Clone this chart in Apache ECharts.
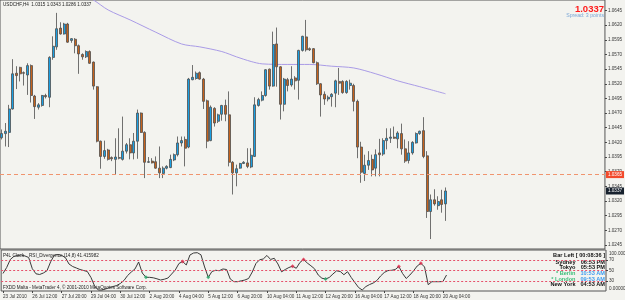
<!DOCTYPE html>
<html>
<head>
<meta charset="utf-8">
<script src="https://cdn.jsdelivr.net/npm/echarts@6/dist/echarts.min.js"></script>
<style>
  html, body { margin: 0; padding: 0; background: #f3f3ef; }
  #chart { width: 625px; height: 300px; }
</style>
</head>
<body>
<div id="chart"></div>
<script>
  // USDCHF H4, 23 Jul 2010 - 20 Aug 2010
  const opens = [1.0428, 1.0435, 1.0437, 1.0477, 1.0538, 1.0548, 1.0539, 1.0535, 1.0551, 1.0499,
    1.0480, 1.0483, 1.0500, 1.0497, 1.0565, 1.0583, 1.0615, 1.0605, 1.0622, 1.0594,
    1.0596, 1.0585, 1.0570, 1.0566, 1.0575, 1.0557, 1.0515, 1.0422, 1.0396, 1.0407,
    1.0394, 1.0391, 1.0394, 1.0391, 1.0405, 1.0416, 1.0402, 1.0422, 1.0470, 1.0437,
    1.0386, 1.0388, 1.0387, 1.0376, 1.0367, 1.0376, 1.0377, 1.0390, 1.0399, 1.0419,
    1.0425, 1.0412, 1.0527, 1.0529, 1.0539, 1.0528, 1.0491, 1.0423, 1.0478, 1.0456,
    1.0468, 1.0483, 1.0467, 1.0386, 1.0368, 1.0376, 1.0384, 1.0385, 1.0378, 1.0396,
    1.0483, 1.0492, 1.0500, 1.0545, 1.0516, 1.0588, 1.0549, 1.0485, 1.0527, 1.0518,
    1.0530, 1.0526, 1.0577, 1.0600, 1.0580, 1.0580, 1.0556, 1.0520, 1.0502, 1.0494,
    1.0498, 1.0504, 1.0524, 1.0524, 1.0505, 1.0517, 1.0517, 1.0490, 1.0412, 1.0367,
    1.0381, 1.0391, 1.0376, 1.0402, 1.0400, 1.0423, 1.0427, 1.0429, 1.0426, 1.0435,
    1.0409, 1.0389, 1.0402, 1.0419, 1.0435, 1.0440, 1.0397, 1.0302, 1.0322, 1.0312,
    1.0322, 1.0315];
  const highs = [1.0442, 1.0453, 1.0484, 1.0562, 1.0550, 1.0549, 1.0541, 1.0555, 1.0553, 1.0501,
    1.0487, 1.0501, 1.0503, 1.0567, 1.0601, 1.0641, 1.0625, 1.0624, 1.0624, 1.0598,
    1.0598, 1.0587, 1.0572, 1.0577, 1.0577, 1.0558, 1.0516, 1.0423, 1.0423, 1.0409,
    1.0396, 1.0427, 1.0444, 1.0464, 1.0419, 1.0427, 1.0436, 1.0476, 1.0471, 1.0439,
    1.0395, 1.0393, 1.0396, 1.0413, 1.0379, 1.0381, 1.0399, 1.0401, 1.0430, 1.0430,
    1.0430, 1.0530, 1.0552, 1.0541, 1.0541, 1.0530, 1.0493, 1.0483, 1.0480, 1.0469,
    1.0484, 1.0493, 1.0507, 1.0388, 1.0382, 1.0385, 1.0388, 1.0410, 1.0410, 1.0497,
    1.0496, 1.0507, 1.0545, 1.0546, 1.0609, 1.0616, 1.0550, 1.0530, 1.0530, 1.0550,
    1.0533, 1.0578, 1.0602, 1.0629, 1.0582, 1.0581, 1.0558, 1.0521, 1.0507, 1.0500,
    1.0504, 1.0527, 1.0547, 1.0526, 1.0526, 1.0527, 1.0520, 1.0493, 1.0421, 1.0399,
    1.0405, 1.0399, 1.0408, 1.0426, 1.0427, 1.0444, 1.0444, 1.0447, 1.0439, 1.0452,
    1.0425, 1.0422, 1.0422, 1.0437, 1.0440, 1.0463, 1.0405, 1.0331, 1.0340, 1.0328,
    1.0339, 1.0343];
  const lows = [1.0425, 1.0413, 1.0412, 1.0476, 1.0511, 1.0524, 1.0517, 1.0501, 1.0488, 1.0460,
    1.0476, 1.0481, 1.0495, 1.0480, 1.0561, 1.0578, 1.0604, 1.0604, 1.0590, 1.0590,
    1.0572, 1.0537, 1.0561, 1.0564, 1.0554, 1.0510, 1.0420, 1.0375, 1.0392, 1.0389,
    1.0388, 1.0365, 1.0391, 1.0389, 1.0401, 1.0391, 1.0391, 1.0392, 1.0436, 1.0359,
    1.0385, 1.0384, 1.0375, 1.0359, 1.0359, 1.0374, 1.0376, 1.0388, 1.0396, 1.0413,
    1.0379, 1.0410, 1.0526, 1.0527, 1.0527, 1.0477, 1.0410, 1.0422, 1.0447, 1.0453,
    1.0457, 1.0456, 1.0379, 1.0331, 1.0345, 1.0375, 1.0383, 1.0376, 1.0376, 1.0395,
    1.0481, 1.0490, 1.0498, 1.0510, 1.0515, 1.0515, 1.0459, 1.0473, 1.0507, 1.0515,
    1.0510, 1.0493, 1.0575, 1.0575, 1.0576, 1.0555, 1.0518, 1.0464, 1.0484, 1.0490,
    1.0481, 1.0480, 1.0501, 1.0503, 1.0503, 1.0510, 1.0473, 1.0393, 1.0351, 1.0354,
    1.0373, 1.0362, 1.0362, 1.0362, 1.0397, 1.0408, 1.0419, 1.0426, 1.0410, 1.0399,
    1.0385, 1.0384, 1.0399, 1.0418, 1.0433, 1.0393, 1.0291, 1.0255, 1.0312, 1.0305,
    1.0300, 1.0286];
  const closes = [1.0435, 1.0439, 1.0477, 1.0537, 1.0534, 1.0537, 1.0538, 1.0551, 1.0500, 1.0481,
    1.0484, 1.0500, 1.0498, 1.0565, 1.0584, 1.0614, 1.0605, 1.0622, 1.0591, 1.0597,
    1.0585, 1.0571, 1.0566, 1.0575, 1.0555, 1.0516, 1.0422, 1.0396, 1.0406, 1.0391,
    1.0392, 1.0395, 1.0393, 1.0405, 1.0416, 1.0402, 1.0422, 1.0470, 1.0437, 1.0386,
    1.0387, 1.0385, 1.0376, 1.0368, 1.0376, 1.0379, 1.0391, 1.0399, 1.0419, 1.0423,
    1.0410, 1.0528, 1.0531, 1.0538, 1.0528, 1.0490, 1.0422, 1.0480, 1.0453, 1.0467,
    1.0483, 1.0468, 1.0386, 1.0368, 1.0375, 1.0384, 1.0386, 1.0379, 1.0398, 1.0484,
    1.0493, 1.0500, 1.0544, 1.0516, 1.0587, 1.0549, 1.0485, 1.0528, 1.0517, 1.0528,
    1.0525, 1.0577, 1.0601, 1.0578, 1.0578, 1.0556, 1.0520, 1.0501, 1.0494, 1.0497,
    1.0502, 1.0525, 1.0521, 1.0505, 1.0524, 1.0521, 1.0490, 1.0412, 1.0369, 1.0381,
    1.0389, 1.0373, 1.0399, 1.0399, 1.0423, 1.0427, 1.0429, 1.0427, 1.0436, 1.0409,
    1.0388, 1.0402, 1.0420, 1.0435, 1.0439, 1.0396, 1.0302, 1.0322, 1.0315, 1.0319,
    1.0314, 1.0337];

  // RSI_Divergence values per bar
  const rsiValues = [44.3, 55.7, 71, 77, 78.6, 79.5, 77.6, 74.8, 53.4, 43.7,
    42.4, 45.2, 49.6, 66.6, 79.1, 80.5, 78.6, 74.8, 62.4, 57.6,
    54.8, 51.9, 50, 48.1, 36.7, 20.5, 12.9, 12.9, 14.8, 17.6,
    19.5, 21.4, 25.2, 31, 40.5, 47.1, 52.9, 66.2, 45.2, 37,
    37, 36.1, 34.2, 31.9, 33.4, 35.7, 43.3, 51, 63.3, 67.1,
    60.5, 79.5, 83.3, 83.9, 79.9, 56.7, 37, 48.1, 50.4, 49.6,
    52.9, 51.9, 33.8, 28.7, 28.7, 30.4, 31.9, 34.8, 47.1, 63.3,
    70.4, 71.9, 78.6, 71, 73.2, 62.4, 47.5, 51.9, 55.7, 58.2,
    54.2, 65.2, 71, 64.3, 59, 53.2, 41.4, 35.3, 33.8, 36.7,
    43.3, 49.4, 48.1, 42, 47.7, 36.7, 27.1, 17.6, 12.9, 19.5,
    23.3, 26.2, 31, 39.5, 46.2, 49.8, 50.4, 51.9, 57.6, 44.3,
    34.8, 41.4, 49.4, 58.6, 63.7, 56.7, 23, 28.7, 28.7, 28.7,
    29, 41.4];
  const redMarks = [49, 79, 82, 108, 114];
  const greenMarks = [39, 56, 88];

  // moving average, read at a few bars
  const maBars = [20, 25, 29, 35, 42, 49, 54, 60, 64, 68, 71, 78, 84, 90, 96, 102, 108, 114, 121];
  const maValues = [1.0680, 1.0663, 1.0646, 1.0629, 1.0608, 1.0588, 1.0583, 1.0575, 1.0566, 1.0558,
    1.0554, 1.0553, 1.0553, 1.0550, 1.0547, 1.0537, 1.0525, 1.0515, 1.0503];

  const timeLabels = ['23 Jul 2010', '26 Jul 12:00', '27 Jul 20:00', '29 Jul 04:00', '30 Jul 12:00',
    '2 Aug 20:00', '4 Aug 04:00', '5 Aug 12:00', '6 Aug 20:00', '10 Aug 04:00', '11 Aug 12:00',
    '12 Aug 20:00', '16 Aug 04:00', '17 Aug 12:00', '18 Aug 20:00', '20 Aug 04:00'];
  const priceTicks = [1.0245, 1.0270, 1.0295, 1.0320, 1.0345, 1.0370, 1.0395, 1.0420, 1.0445,
    1.0470, 1.0495, 1.0520, 1.0545, 1.0570, 1.0595, 1.0620, 1.0645];
  const rsiLevels = [70, 50, 30];
  const linePrice = 1.0365;
  const bidPrice = 1.0337;
  const slots = 165; // bars + empty shift space on the right

  const slotIdx = [];
  for (let i = 0; i < slots; i++) slotIdx.push(i);

  const candles = opens.map((o, i) => [o, closes[i], lows[i], highs[i]]);
  const maData = maBars.map((b, i) => [b, maValues[i]]);
  const font = 'Liberation Sans, Arial, sans-serif';

  // price boxes on the right scale
  function priceBox(value, bg, showLine) {
    return {
      yAxis: value,
      lineStyle: showLine ? { color: '#f0946e', type: [4, 3], width: 1 } : { color: 'rgba(0,0,0,0)', width: 0 },
      label: { show: true, position: 'end', distance: 1, formatter: value.toFixed(4), color: '#fff',
        backgroundColor: bg, padding: [1, 2], fontSize: 4.6, fontFamily: font }
    };
  }

  const chart = echarts.init(document.getElementById('chart'));
  const option = {
    animation: false,
    backgroundColor: '#f3f3ef',
    textStyle: { fontFamily: font },
    grid: [
      { left: 0, top: 0, width: 606, height: 249, show: true, borderColor: '#555', borderWidth: 1, backgroundColor: 'transparent' },
      { left: 0, top: 250, width: 606, height: 41, show: true, borderColor: '#555', borderWidth: 1, backgroundColor: 'transparent' }
    ],
    xAxis: [
      { type: 'category', gridIndex: 0, data: slotIdx, boundaryGap: true,
        axisLine: { show: false }, axisTick: { show: false }, axisLabel: { show: false }, splitLine: { show: false } },
      { type: 'category', gridIndex: 1, data: slotIdx, boundaryGap: true,
        axisLine: { show: false },
        axisTick: { show: true, length: 2, alignWithLabel: true, lineStyle: { color: '#444' },
          interval: (idx) => idx % 8 === 0 && idx / 8 < timeLabels.length },
        axisLabel: {
          interval: (idx) => idx % 8 === 0 && idx / 8 < timeLabels.length,
          formatter: (v, idx) => timeLabels[idx / 8] || '',
          align: 'left', fontSize: 4.6, color: '#333', margin: 3, fontFamily: font
        },
        splitLine: { show: false } }
    ],
    yAxis: [
      { type: 'value', gridIndex: 0, position: 'right', min: 1.0238, max: 1.0663,
        axisLine: { show: false },
        axisTick: { show: true, length: 2, customValues: priceTicks, lineStyle: { color: '#444' } },
        axisLabel: { customValues: priceTicks, formatter: (v) => v.toFixed(4), fontSize: 4.6, color: '#333', margin: 3, fontFamily: font },
        splitLine: { show: false } },
      { type: 'value', gridIndex: 1, position: 'right', min: 11, max: 89,
        axisLine: { show: false },
        axisTick: { show: true, length: 2, customValues: rsiLevels, lineStyle: { color: '#444' } },
        axisLabel: { customValues: rsiLevels, fontSize: 4.6, color: '#333', margin: 3, fontFamily: font },
        splitLine: { show: false } }
    ],
    series: [
      {
        type: 'line', xAxisIndex: 0, yAxisIndex: 0, data: maData, symbol: 'none', smooth: 0.3,
        lineStyle: { color: '#a99be6', width: 1 }, silent: true, z: 1,
        markLine: {
          symbol: ['none', 'none'], silent: true, animation: false, precision: 4,
          data: [priceBox(linePrice, '#f24a2c', true), priceBox(bidPrice, '#17212e', false)]
        }
      },
      {
        type: 'candlestick', xAxisIndex: 0, yAxisIndex: 0, data: candles, barWidth: 2.4,
        itemStyle: { color: '#1a9fe2', color0: '#c6621c', borderColor: '#4e4e4e', borderColor0: '#4e4e4e', borderWidth: 0.8 },
        z: 3
      },
      {
        type: 'line', xAxisIndex: 1, yAxisIndex: 1, data: rsiValues, symbol: 'none',
        lineStyle: { color: '#3a3a3a', width: 1 }, silent: true, z: 3,
        markLine: {
          symbol: ['none', 'none'], silent: true, label: { show: false },
          lineStyle: { color: '#e6506a', type: [2, 2], width: 1 },
          data: rsiLevels.map((v) => ({ yAxis: v }))
        }
      },
      {
        type: 'scatter', xAxisIndex: 1, yAxisIndex: 1, symbol: 'diamond', symbolSize: 4,
        data: redMarks.map((b) => [b, rsiValues[b]]), itemStyle: { color: '#e02848' }, z: 4
      },
      {
        type: 'scatter', xAxisIndex: 1, yAxisIndex: 1, symbol: 'diamond', symbolSize: 4,
        data: greenMarks.map((b) => [b, rsiValues[b]]), itemStyle: { color: '#27a86a' }, z: 4
      }
    ],
    graphic: [
      { type: 'text', left: 3, top: 2, style: { text: 'USDCHF,H4  1.0315 1.0343 1.0286 1.0337', fontSize: 4.6, fill: '#222', fontFamily: font } },
      { type: 'text', right: 21, top: 4, style: { text: '1.0337', fontSize: 9.5, fontWeight: 'bold', fill: '#ff1a1a', fontFamily: font } },
      { type: 'text', right: 21, top: 13, style: { text: 'Spread: 3 points', fontSize: 5.2, fill: '#7aa6d6', fontFamily: font } },
      { type: 'text', left: 3, top: 253, style: { text: 'P4L Clock    RSI_Divergence (14,8) 41.415982', fontSize: 4.6, fill: '#222', fontFamily: font } },
      { type: 'text', left: 3, top: 285, style: { text: 'FXDD Malta - MetaTrader 4, \u00a9 2001-2010 MetaQuotes Software Corp.', fontSize: 4.6, fill: '#222', fontFamily: font } },
      { type: 'text', left: 609, top: 251, style: { text: '100.000000', fontSize: 4.6, fill: '#333', fontFamily: font } },
      { type: 'text', left: 609, top: 286, style: { text: '0.000000', fontSize: 4.6, fill: '#333', fontFamily: font } },
      // P4L Clock panel
      { type: 'text', right: 20, top: 252.5, style: { text: 'Bar Left [ 00:08:36 ]', fontSize: 5.6, fontWeight: 'bold', fill: '#111', fontFamily: font } },
      { type: 'text', right: 49.5, top: 259, style: { text: 'Sydney', fontSize: 5.6, fontWeight: 'bold', fill: '#111', fontFamily: font } },
      { type: 'text', right: 20, top: 259, style: { text: '06:53 PM', fontSize: 5.6, fontWeight: 'bold', fill: '#111', fontFamily: font } },
      { type: 'text', right: 49.5, top: 264.5, style: { text: 'Tokyo', fontSize: 5.6, fontWeight: 'bold', fill: '#111', fontFamily: font } },
      { type: 'text', right: 20, top: 264.5, style: { text: '05:53 PM', fontSize: 5.6, fontWeight: 'bold', fill: '#111', fontFamily: font } },
      { type: 'text', right: 49.5, top: 270.5, style: { text: '* Berlin', fontSize: 5.6, fontWeight: 'bold', fill: '#3cbf7a', fontFamily: font } },
      { type: 'text', right: 20, top: 270.5, style: { text: '10:53 AM', fontSize: 5.6, fontWeight: 'bold', fill: '#3b9cf0', fontFamily: font } },
      { type: 'text', right: 49.5, top: 276, style: { text: '* London', fontSize: 5.6, fontWeight: 'bold', fill: '#3cbf7a', fontFamily: font } },
      { type: 'text', right: 20, top: 276, style: { text: '09:53 AM', fontSize: 5.6, fontWeight: 'bold', fill: '#3b9cf0', fontFamily: font } },
      { type: 'text', right: 49.5, top: 281.5, style: { text: 'New York', fontSize: 5.6, fontWeight: 'bold', fill: '#111', fontFamily: font } },
      { type: 'text', right: 20, top: 281.5, style: { text: '04:53 AM', fontSize: 5.6, fontWeight: 'bold', fill: '#111', fontFamily: font } }
    ]
  };
  chart.setOption(option);
</script>
</body>
</html>
